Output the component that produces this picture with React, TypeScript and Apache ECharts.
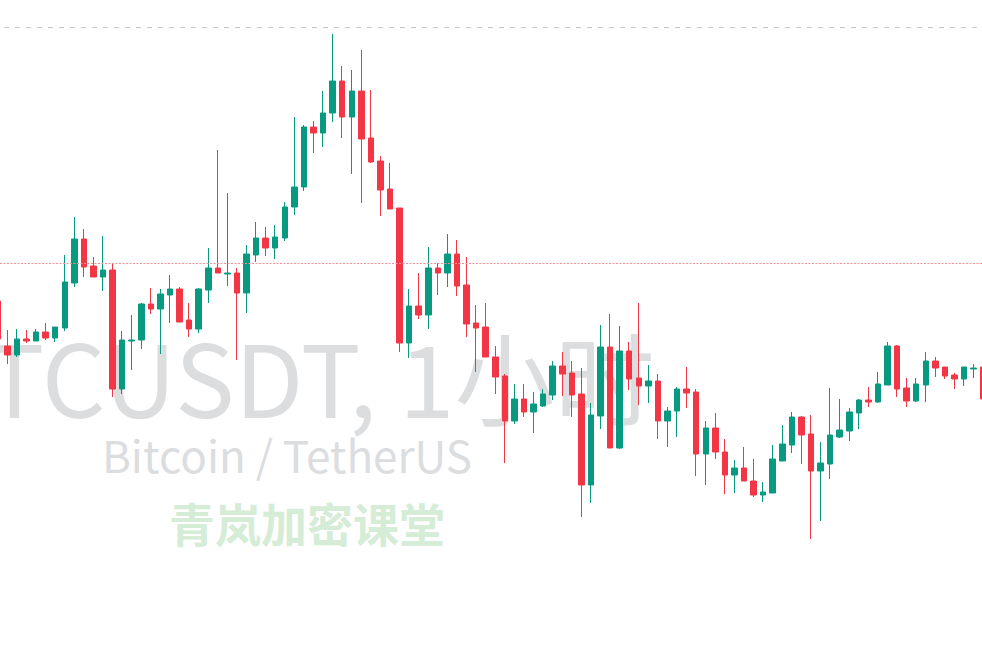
import React, { useEffect, useRef } from "react";
import * as echarts from "echarts";

// BTCUSDT hourly candles (price estimates)
const opens = [
  67699, 67654, 67645, 67661, 67659, 67668, 67662, 67672, 67717, 67761, 67734, 67723, 67730, 67611, 67659,
  67660, 67696, 67691, 67705, 67711, 67680, 67671, 67710, 67732, 67726, 67727, 67707, 67745, 67762, 67752,
  67762, 67793, 67813, 67873, 67867, 67887, 67919, 67883, 67909, 67862, 67839, 67811, 67792, 67657, 67694,
  67685, 67732, 67727, 67746, 67715, 67677, 67673, 67643, 67624, 67579, 67601, 67588, 67594, 67605, 67634,
  67627, 67606, 67515, 67584, 67653, 67552, 67649, 67622, 67614, 67619, 67579, 67589, 67611, 67608, 67546,
  67572, 67548, 67525, 67532, 67519, 67505, 67507, 67539, 67555, 67583, 67566, 67529, 67536, 67563, 67569,
  67587, 67600, 67598, 67615, 67654, 67612, 67599, 67615, 67639, 67633, 67625, 67621, 67631, 67633,
];
const closes = [
  67661, 67645, 67661, 67659, 67668, 67662, 67673, 67718, 67761, 67733, 67723, 67730, 67611, 67660, 67660,
  67696, 67691, 67706, 67711, 67678, 67671, 67711, 67732, 67727, 67727, 67707, 67746, 67762, 67752, 67763,
  67793, 67813, 67873, 67867, 67887, 67919, 67883, 67909, 67861, 67838, 67810, 67791, 67657, 67694, 67685,
  67732, 67727, 67746, 67714, 67676, 67672, 67643, 67623, 67579, 67601, 67588, 67596, 67606, 67634, 67626,
  67605, 67515, 67585, 67653, 67552, 67649, 67621, 67614, 67619, 67579, 67589, 67611, 67607, 67546, 67572,
  67548, 67525, 67532, 67519, 67505, 67508, 67541, 67556, 67583, 67565, 67529, 67537, 67565, 67570, 67588,
  67600, 67598, 67616, 67654, 67611, 67599, 67616, 67639, 67632, 67624, 67621, 67633, 67632, 67601,
];
const lows = [
  67659, 67636, 67643, 67657, 67659, 67660, 67658, 67669, 67713, 67723, 67723, 67709, 67603, 67606, 67630,
  67651, 67686, 67646, 67677, 67678, 67663, 67667, 67697, 67727, 67714, 67640, 67687, 67738, 67744, 67741,
  67759, 67785, 67809, 67847, 67853, 67878, 67862, 67826, 67797, 67837, 67784, 67791, 67648, 67642, 67681,
  67671, 67705, 67713, 67704, 67663, 67628, 67643, 67606, 67537, 67576, 67583, 67567, 67593, 67600, 67604,
  67583, 67483, 67497, 67571, 67552, 67551, 67610, 67595, 67597, 67561, 67553, 67563, 67592, 67524, 67515,
  67541, 67506, 67507, 67519, 67503, 67498, 67507, 67539, 67547, 67536, 67461, 67479, 67521, 67562, 67559,
  67571, 67593, 67597, 67615, 67603, 67593, 67598, 67598, 67623, 67621, 67611, 67614, 67622, 67596,
];
const highs = [
  67702, 67670, 67671, 67670, 67671, 67677, 67673, 67745, 67783, 67771, 67743, 67764, 67737, 67669, 67685,
  67697, 67712, 67711, 67725, 67713, 67697, 67712, 67752, 67850, 67807, 67732, 67755, 67778, 67773, 67775,
  67798, 67883, 67875, 67879, 67909, 67966, 67934, 67930, 67950, 67910, 67844, 67837, 67792, 67711, 67727,
  67753, 67737, 67766, 67760, 67743, 67695, 67697, 67654, 67626, 67616, 67616, 67608, 67611, 67639, 67648,
  67639, 67632, 67597, 67675, 67686, 67674, 67658, 67697, 67635, 67626, 67593, 67613, 67633, 67611, 67579,
  67587, 67561, 67540, 67553, 67541, 67518, 67555, 67575, 67588, 67584, 67585, 67558, 67612, 67601, 67592,
  67601, 67613, 67628, 67658, 67655, 67622, 67622, 67648, 67643, 67633, 67627, 67633, 67636, 67636,
];

// Reference levels
const alertLevel = 67736.5;
const paneTopLevel = 67973;
const yMin = 67345;
const yMax = 68000;

// Watermark texts
const watermarkTitle = "BTCUSDT, 1小时";
const watermarkSubtitle = "Bitcoin / TetherUS";
const watermarkBrand = "青岚加密课堂";

const UP = "#089981";
const DOWN = "#F23645";

// the chart canvas is a bit wider than the window so the first and last candles are cut
const OFFSET_X = -7;
const CHART_W = 995;

export default function App() {
  const ref = useRef<HTMLDivElement>(null);

  useEffect(() => {
    if (!ref.current) return;
    const chart = echarts.init(ref.current, null, { renderer: "svg" });
    const categories = opens.map((_, i) => String(i));
    const data = opens.map((o, i) => [o, closes[i], lows[i], highs[i]]);
    const dx = -OFFSET_X;

    chart.setOption({
      animation: false,
      backgroundColor: "#ffffff",
      grid: { left: 0, right: 0, top: 0, bottom: 0, containLabel: false },
      xAxis: {
        type: "category",
        data: categories,
        boundaryGap: true,
        show: false,
      },
      yAxis: {
        type: "value",
        min: yMin,
        max: yMax,
        show: false,
        splitLine: { show: false },
      },
      graphic: [
        {
          type: "text",
          z: 0,
          silent: true,
          style: {
            text: watermarkTitle,
            x: 288 + dx,
            y: 374,
            fill: "#dcdddf",
            font: '100px "Noto Sans CJK SC"',
            textAlign: "center",
            textVerticalAlign: "middle",
            align: "center",
            verticalAlign: "middle",
          },
        },
        {
          type: "text",
          z: 0,
          silent: true,
          style: {
            text: watermarkSubtitle,
            x: 287 + dx,
            y: 454,
            fill: "#dcdddf",
            font: '44px "Noto Sans CJK SC"',
            textAlign: "center",
            textVerticalAlign: "middle",
            align: "center",
            verticalAlign: "middle",
          },
        },
        {
          type: "text",
          z: 0,
          silent: true,
          style: {
            text: watermarkBrand,
            x: 307 + dx,
            y: 522,
            fill: "#d5ecd6",
            font: 'bold 46px "Noto Sans CJK SC"',
            textAlign: "center",
            textVerticalAlign: "middle",
            align: "center",
            verticalAlign: "middle",
          },
        },
      ],
      series: [
        {
          type: "candlestick",
          data,
          barWidth: 6,
          itemStyle: {
            color: UP,
            color0: DOWN,
            borderColor: UP,
            borderColor0: DOWN,
            borderWidth: 1,
          },
          markLine: {
            silent: true,
            symbol: ["none", "none"],
            label: { show: false },
            animation: false,
            data: [
              {
                yAxis: alertLevel,
                lineStyle: { color: "#f48e97", type: [2, 1.5], width: 1 },
              },
              {
                yAxis: paneTopLevel,
                lineStyle: { color: "#c9c9c9", type: [5, 6], width: 1 },
              },
            ],
          },
        },
      ],
    });
    return () => chart.dispose();
  }, []);

  return (
    <div style={{ position: "absolute", left: 0, top: 0, width: 982, height: 655, overflow: "hidden" }}>
      <div ref={ref} style={{ position: "absolute", left: OFFSET_X, top: 0, width: CHART_W, height: 655 }} />
    </div>
  );
}
